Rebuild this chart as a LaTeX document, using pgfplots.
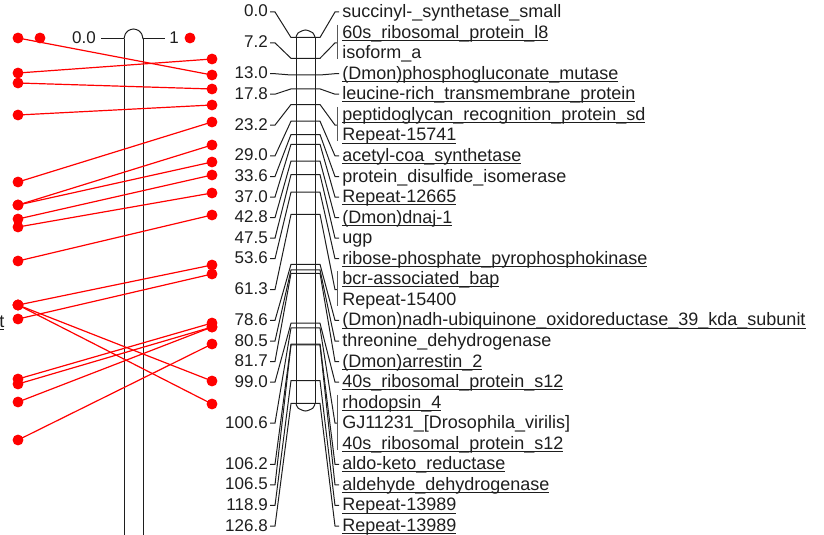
\documentclass[border=0pt]{standalone}
\usepackage{pgfplots}
\pgfplotsset{compat=1.18}
\usepackage{fontspec}
\setmainfont{Liberation Sans}
\definecolor{txt}{HTML}{1E1E1E}
\newcommand\uln[1]{\setbox0=\hbox{#1}\rlap{\rule[-1.9pt]{\wd0}{0.7pt}}\box0}
\tikzset{lab/.style={font=\fontsize{13.5}{16}\selectfont,text=txt,inner sep=0pt},
 num/.style={font=\fontsize{12.75}{15}\selectfont,text=txt,inner sep=0pt,anchor=base east}}
\begin{document}
\begin{tikzpicture}
\begin{axis}[x=0.75pt,y=0.75pt,y dir=reverse,xmin=0,xmax=824,ymin=0,ymax=535,hide axis,clip=true,
 blk/.style={color=txt,line width=0.75pt,mark=none},
 brk/.style={color=black!65,line width=0.75pt,mark=none},
 rd/.style={color=red,line width=0.9pt,mark=*,mark size=3.6pt,mark options={fill=red,draw=red}}]
% left chromosome
\addplot[blk] coordinates {(124,39) (124,540)};
\addplot[blk] coordinates {(143,39) (143,540)};
\addplot[blk,smooth] coordinates {(124,39) (125.3,34) (128.5,30.5) (133.5,29) (138.5,30.5) (141.7,34) (143,39)};
\addplot[blk] coordinates {(101,39) (124,39)};
\addplot[blk] coordinates {(143,39) (165,39)};
% right chromosome
\addplot[blk] coordinates {(296,37.5) (296,403.4)};
\addplot[blk] coordinates {(315,37.5) (315,403.4)};
\addplot[blk,smooth] coordinates {(296,37.5) (298,33) (305.5,30) (313,33) (315,37.5)};
\addplot[blk,smooth] coordinates {(296,403.4) (298,408) (305.5,411) (313,408) (315,403.4)};
% loci: left connector, band, right connector
\addplot[blk] coordinates {(270,12.0) (275,12.0) (291,37.5) (296,37.5) (315,37.5) (320,37.5) (335,12.0) (339,12.0)};
\addplot[blk] coordinates {(270,42.9) (275,42.9) (291,58.3) (296,58.3) (315,58.3) (320,58.3) (335,42.9) (337,42.9)};
\addplot[blk] coordinates {(270,73.7) (275,73.7) (291,75.0) (296,75.0) (315,75.0) (320,75.0) (335,73.7) (339,73.7)};
\addplot[blk] coordinates {(270,94.2) (275,94.2) (291,88.9) (296,88.9) (315,88.9) (320,88.9) (335,94.2) (339,94.2)};
\addplot[blk] coordinates {(270,125.1) (275,125.1) (291,104.5) (296,104.5) (315,104.5) (320,104.5) (335,125.1) (337,125.1)};
\addplot[blk] coordinates {(270,155.9) (275,155.9) (291,121.2) (296,121.2) (315,121.2) (320,121.2) (335,155.9) (339,155.9)};
\addplot[blk] coordinates {(270,176.5) (275,176.5) (291,134.5) (296,134.5) (315,134.5) (320,134.5) (335,176.5) (339,176.5)};
\addplot[blk] coordinates {(270,197.0) (275,197.0) (291,144.3) (296,144.3) (315,144.3) (320,144.3) (335,197.0) (339,197.0)};
\addplot[blk] coordinates {(270,217.6) (275,217.6) (291,161.0) (296,161.0) (315,161.0) (320,161.0) (335,217.6) (339,217.6)};
\addplot[blk] coordinates {(270,238.2) (275,238.2) (291,174.6) (296,174.6) (315,174.6) (320,174.6) (335,238.2) (339,238.2)};
\addplot[blk] coordinates {(270,258.7) (275,258.7) (291,192.2) (296,192.2) (315,192.2) (320,192.2) (335,258.7) (339,258.7)};
\addplot[blk] coordinates {(270,289.6) (275,289.6) (291,214.4) (296,214.4) (315,214.4) (320,214.4) (335,289.6) (337,289.6)};
\addplot[blk] coordinates {(270,320.4) (275,320.4) (291,264.3) (296,264.3) (315,264.3) (320,264.3) (335,320.4) (339,320.4)};
\addplot[blk] coordinates {(270,341.0) (275,341.0) (291,269.8) (296,269.8) (315,269.8) (320,269.8) (335,341.0) (339,341.0)};
\addplot[blk] coordinates {(270,361.5) (275,361.5) (291,273.3) (296,273.3) (315,273.3) (320,273.3) (335,361.5) (339,361.5)};
\addplot[blk] coordinates {(270,382.1) (275,382.1) (291,323.2) (296,323.2) (315,323.2) (320,323.2) (335,382.1) (339,382.1)};
\addplot[blk] coordinates {(270,423.2) (275,423.2) (291,327.8) (296,327.8) (315,327.8) (320,327.8) (335,423.2) (337,423.2)};
\addplot[blk] coordinates {(270,464.3) (275,464.3) (291,344.0) (296,344.0) (315,344.0) (320,344.0) (335,464.3) (339,464.3)};
\addplot[blk] coordinates {(270,484.9) (275,484.9) (291,344.9) (296,344.9) (315,344.9) (320,344.9) (335,484.9) (339,484.9)};
\addplot[blk] coordinates {(270,505.4) (275,505.4) (291,380.6) (296,380.6) (315,380.6) (320,380.6) (335,505.4) (339,505.4)};
\addplot[blk] coordinates {(270,526.0) (275,526.0) (291,403.4) (296,403.4) (315,403.4) (320,403.4) (335,526.0) (339,526.0)};
% brackets
\addplot[brk] coordinates {(337,24.6) (337,59.0)};
\addplot[brk] coordinates {(337,106.8) (337,141.4)};
\addplot[brk] coordinates {(337,271.3) (337,305.8)};
\addplot[brk] coordinates {(337,394.6) (337,449.8)};
% red homology links
\addplot[rd] coordinates {(18,38) (212,75)};
\addplot[rd] coordinates {(18,73) (212,59)};
\addplot[rd] coordinates {(18,83) (212,89)};
\addplot[rd] coordinates {(18,115) (212,105)};
\addplot[rd] coordinates {(18,182) (212,122)};
\addplot[rd] coordinates {(18,205) (212,145)};
\addplot[rd] coordinates {(18,205) (212,162)};
\addplot[rd] coordinates {(18,219) (212,175)};
\addplot[rd] coordinates {(18,227) (212,193)};
\addplot[rd] coordinates {(18,261) (212,215)};
\addplot[rd] coordinates {(18,305) (212,265)};
\addplot[rd] coordinates {(18,319) (212,274)};
\addplot[rd] coordinates {(18,305) (212,381)};
\addplot[rd] coordinates {(18,305) (212,404)};
\addplot[rd] coordinates {(18,379) (212,323)};
\addplot[rd] coordinates {(18,384) (212,327)};
\addplot[rd] coordinates {(18,402) (212,327)};
\addplot[rd] coordinates {(18,440) (212,344)};
\addplot[rd,only marks] coordinates {(40,38) (190,38)};
% left chromosome labels
\node[num] at (axis cs:96,44) {0.0};
\node[num,anchor=base west] at (axis cs:169,44) {1};
\node[lab,anchor=base west] at (axis cs:-1,327) {\uln{t}};
% position numbers
\node[num] at (axis cs:268,17.0) {0.0};
\node[num] at (axis cs:268,47.9) {7.2};
\node[num] at (axis cs:268,78.7) {13.0};
\node[num] at (axis cs:268,99.2) {17.8};
\node[num] at (axis cs:268,130.1) {23.2};
\node[num] at (axis cs:268,160.9) {29.0};
\node[num] at (axis cs:268,181.5) {33.6};
\node[num] at (axis cs:268,202.0) {37.0};
\node[num] at (axis cs:268,222.6) {42.8};
\node[num] at (axis cs:268,243.2) {47.5};
\node[num] at (axis cs:268,263.7) {53.6};
\node[num] at (axis cs:268,294.6) {61.3};
\node[num] at (axis cs:268,325.4) {78.6};
\node[num] at (axis cs:268,346.0) {80.5};
\node[num] at (axis cs:268,366.5) {81.7};
\node[num] at (axis cs:268,387.1) {99.0};
\node[num] at (axis cs:268,428.2) {100.6};
\node[num] at (axis cs:268,469.3) {106.2};
\node[num] at (axis cs:268,489.9) {106.5};
\node[num] at (axis cs:268,510.4) {118.9};
\node[num] at (axis cs:268,531.0) {126.8};
% locus names
\node[lab,anchor=base west] at (axis cs:342,17.5) {succinyl-\_synthetase\_small};
\node[lab,anchor=base west] at (axis cs:342,38.1) {\uln{60s\_ribosomal\_protein\_l8}};
\node[lab,anchor=base west] at (axis cs:342,58.6) {isoform\_a};
\node[lab,anchor=base west] at (axis cs:342,79.2) {\uln{(Dmon)phosphogluconate\_mutase}};
\node[lab,anchor=base west] at (axis cs:342,99.7) {\uln{leucine-rich\_transmembrane\_protein}};
\node[lab,anchor=base west] at (axis cs:342,120.3) {\uln{peptidoglycan\_recognition\_protein\_sd}};
\node[lab,anchor=base west] at (axis cs:342,140.9) {\uln{Repeat-15741}};
\node[lab,anchor=base west] at (axis cs:342,161.4) {\uln{acetyl-coa\_synthetase}};
\node[lab,anchor=base west] at (axis cs:342,182.0) {protein\_disulfide\_isomerase};
\node[lab,anchor=base west] at (axis cs:342,202.5) {\uln{Repeat-12665}};
\node[lab,anchor=base west] at (axis cs:342,223.1) {\uln{(Dmon)dnaj-1}};
\node[lab,anchor=base west] at (axis cs:342,243.7) {ugp};
\node[lab,anchor=base west] at (axis cs:342,264.2) {\uln{ribose-phosphate\_pyrophosphokinase}};
\node[lab,anchor=base west] at (axis cs:342,284.8) {\uln{bcr-associated\_bap}};
\node[lab,anchor=base west] at (axis cs:342,305.3) {Repeat-15400};
\node[lab,anchor=base west] at (axis cs:342,325.9) {\uln{(Dmon)nadh-ubiquinone\_oxidoreductase\_39\_kda\_subunit}};
\node[lab,anchor=base west] at (axis cs:342,346.5) {threonine\_dehydrogenase};
\node[lab,anchor=base west] at (axis cs:342,367.0) {\uln{(Dmon)arrestin\_2}};
\node[lab,anchor=base west] at (axis cs:342,387.6) {\uln{40s\_ribosomal\_protein\_s12}};
\node[lab,anchor=base west] at (axis cs:342,408.1) {\uln{rhodopsin\_4}};
\node[lab,anchor=base west] at (axis cs:342,428.7) {GJ11231\_[Drosophila\_virilis]};
\node[lab,anchor=base west] at (axis cs:342,449.3) {\uln{40s\_ribosomal\_protein\_s12}};
\node[lab,anchor=base west] at (axis cs:342,469.8) {\uln{aldo-keto\_reductase}};
\node[lab,anchor=base west] at (axis cs:342,490.4) {\uln{aldehyde\_dehydrogenase}};
\node[lab,anchor=base west] at (axis cs:342,510.9) {\uln{Repeat-13989}};
\node[lab,anchor=base west] at (axis cs:342,531.5) {\uln{Repeat-13989}};
\end{axis}
\pgfresetboundingbox
\path[use as bounding box] (current axis.south west) rectangle (current axis.north east);
\end{tikzpicture}
\end{document}
